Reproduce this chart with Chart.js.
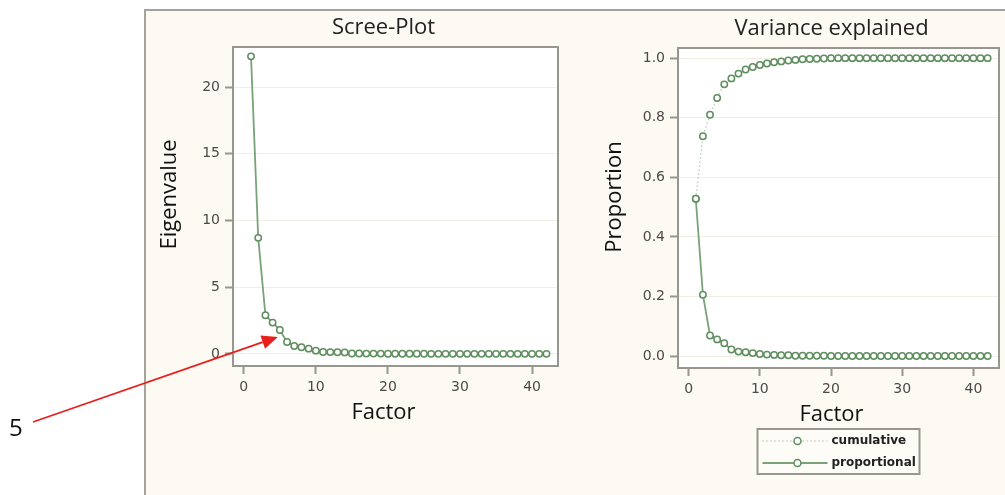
<html>
<head>
<script src="https://cdn.jsdelivr.net/npm/chart.js@4.4.1/dist/chart.umd.min.js"></script>
<style>
  body { margin: 0; width: 1005px; height: 495px; background: #ffffff; position: relative; overflow: hidden; }
  #panel {
    position: absolute; left: 144px; top: 9px; width: 900px; height: 520px;
    background: #fcfaf2; border-left: 2px solid #a4a49c; border-top: 2px solid #a4a49c;
  }
  #screeChart { position: absolute; left: 146px; top: 11px; }
  #varianceChart { position: absolute; left: 575px; top: 11px; }
  #arrowLayer { position: absolute; left: 0; top: 0; pointer-events: none; }
  #arrowLabel {
    position: absolute; left: 9px; top: 410px;
    font-family: "Open Sans"; font-size: 24px; color: #111;
  }
</style>
</head>
<body>
  <div id="panel"></div>
  <canvas id="screeChart" width="424" height="440"></canvas>
  <canvas id="varianceChart" width="430" height="484"></canvas>
  <canvas id="arrowLayer" width="1005" height="495"></canvas>
  <div id="arrowLabel">5</div>

<script>
  // factor numbers and what the factor analysis gave for them
  var factors = [1, 2, 3, 4, 5, 6, 7, 8, 9, 10, 11, 12, 13, 14, 15, 16, 17, 18, 19, 20, 21,
                 22, 23, 24, 25, 26, 27, 28, 29, 30, 31, 32, 33, 34, 35, 36, 37, 38, 39, 40, 41, 42];

  var eigenvalues = [22.3, 8.7, 2.9, 2.35, 1.8, 0.9, 0.6, 0.5, 0.4, 0.25, 0.15, 0.14, 0.13, 0.12,
                     0.04, 0.04, 0.03, 0.03, 0.03, 0.02, 0.02, 0.02, 0.02, 0.02, 0.02, 0.01, 0.01, 0.01,
                     0.01, 0.01, 0.01, 0.01, 0.01, 0.01, 0.01, 0.01, 0.01, 0.01, 0.01, 0.01, 0.01, 0.01];

  var proportional = [0.528, 0.206, 0.069, 0.056, 0.043, 0.022, 0.015, 0.013, 0.010, 0.007, 0.005, 0.004, 0.003, 0.003,
                      0.001, 0.001, 0.001, 0.001, 0.001, 0.0005, 0.0005, 0.0005, 0.0005, 0.0005, 0.0005, 0.0003, 0.0003, 0.0003,
                      0.0003, 0.0003, 0.0003, 0.0003, 0.0003, 0.0003, 0.0003, 0.0003, 0.0003, 0.0003, 0.0003, 0.0003, 0.0003, 0.0003];

  var cumulative = [0.528, 0.738, 0.81, 0.866, 0.912, 0.932, 0.948, 0.962, 0.970, 0.977, 0.982, 0.986, 0.989, 0.992,
                    0.994, 0.996, 0.997, 0.998, 0.999, 1.0, 1.0, 1.0, 1.0, 1.0, 1.0, 1.0, 1.0, 1.0,
                    1.0, 1.0, 1.0, 1.0, 1.0, 1.0, 1.0, 1.0, 1.0, 1.0, 1.0, 1.0, 1.0, 1.0];

  var factorTicks = [0, 10, 20, 30, 40];
  var eigenTicks = [0, 5, 10, 15, 20];
  var proportionTicks = [0.0, 0.2, 0.4, 0.6, 0.8, 1.0];

  var lineGreen = '#79a379';
  var markerGreen = '#5f8e5f';
  var frameGray = '#979790';
  var gridColor = '#efefe2';

  function toPoints(values) {
    return values.map(function (v, i) { return { x: factors[i], y: v }; });
  }

  // white plot area with a grey frame round it
  var plotFrame = {
    id: 'plotFrame',
    beforeDraw: function (chart) {
      var a = chart.chartArea, ctx = chart.ctx;
      ctx.save();
      ctx.fillStyle = '#ffffff';
      ctx.fillRect(a.left, a.top, a.right - a.left, a.bottom - a.top);
      ctx.restore();
    },
    afterDraw: function (chart) {
      var a = chart.chartArea, ctx = chart.ctx;
      ctx.save();
      ctx.strokeStyle = frameGray;
      ctx.lineWidth = 2;
      ctx.strokeRect(a.left, a.top, a.right - a.left, a.bottom - a.top);
      ctx.restore();
    }
  };

  // panel title, x title and rotated y title, all sharing one centre line
  var panelTitles = {
    id: 'panelTitles',
    afterDraw: function (chart, args, opts) {
      var a = chart.chartArea, ctx = chart.ctx;
      var cx = (a.left + a.right) / 2 + opts.shiftX;
      var cy = (a.top + a.bottom) / 2 + opts.shiftY;
      ctx.save();
      ctx.textAlign = 'center';
      ctx.textBaseline = 'middle';
      ctx.font = '22px "Open Sans"';
      ctx.fillStyle = '#222';
      ctx.fillText(opts.title, cx, a.top - 19);
      ctx.fillStyle = '#111';
      ctx.fillText(opts.xTitle, cx, a.bottom + 47);
      ctx.translate(opts.yTitleX, cy);
      ctx.rotate(-Math.PI / 2);
      ctx.fillText(opts.yTitle, 0, 0);
      ctx.restore();
    }
  };

  // legend with line + marker samples inside a framed box
  var boxLegend = {
    id: 'boxLegend',
    afterDraw: function (chart) {
      var ctx = chart.ctx, a = chart.chartArea;
      var w = 162, h = 45;
      var left = (a.left + a.right) / 2 - w / 2;
      var top = chart.scales.x.bottom + 1;
      ctx.save();
      ctx.fillStyle = '#fdfcf7';
      ctx.fillRect(left, top, w, h);
      ctx.strokeStyle = frameGray;
      ctx.lineWidth = 2;
      ctx.strokeRect(left, top, w, h);
      chart.data.datasets.forEach(function (ds, i) {
        var y = top + 12 + i * 22;
        ctx.beginPath();
        ctx.setLineDash(ds.borderDash || []);
        ctx.strokeStyle = ds.borderColor;
        ctx.lineWidth = ds.borderWidth;
        ctx.moveTo(left + 5, y);
        ctx.lineTo(left + 70, y);
        ctx.stroke();
        ctx.setLineDash([]);
        ctx.beginPath();
        ctx.arc(left + 40, y, 3.5, 0, Math.PI * 2);
        ctx.fillStyle = '#ffffff';
        ctx.fill();
        ctx.strokeStyle = ds.pointBorderColor;
        ctx.lineWidth = 1.5;
        ctx.stroke();
        ctx.fillStyle = '#222';
        ctx.font = 'bold 12px "DejaVu Sans"';
        ctx.textBaseline = 'middle';
        ctx.fillText(ds.label, left + 74, y);
      });
      ctx.restore();
    }
  };

  var tickFont = { family: 'DejaVu Sans', size: 14 };

  function xScale() {
    return {
      type: 'linear', min: -1.5, max: 43.6,
      afterBuildTicks: function (s) { s.ticks = factorTicks.map(function (v) { return { value: v }; }); },
      afterFit: function (s) { s.height = 60; },
      border: { display: false },
      grid: { drawOnChartArea: false, tickLength: 8, tickColor: frameGray, tickWidth: 2 },
      ticks: { padding: 5, color: '#4a4a4a', font: tickFont }
    };
  }

  function lineDataset(label, values, dash, color, width) {
    return {
      label: label,
      data: toPoints(values),
      borderColor: color,
      borderWidth: width,
      borderDash: dash,
      tension: 0,
      pointRadius: 3.2,
      pointBorderWidth: 1.5,
      pointBorderColor: markerGreen,
      pointBackgroundColor: '#ffffff'
    };
  }

  var screeChart = new Chart(document.getElementById('screeChart'), {
    type: 'line',
    data: { datasets: [lineDataset('eigenvalue', eigenvalues, [], lineGreen, 1.8)] },
    options: {
      responsive: false,
      animation: false,
      layout: { padding: { left: 0, right: 12, top: 36, bottom: 25 } },
      plugins: {
        legend: { display: false },
        tooltip: { enabled: false },
        panelTitles: { title: 'Scree-Plot', xTitle: 'Factor', yTitle: 'Eigenvalue', shiftX: -12, shiftY: -12, yTitleX: 24 }
      },
      scales: {
        x: xScale(),
        y: {
          min: -0.9, max: 23,
          afterBuildTicks: function (s) { s.ticks = eigenTicks.map(function (v) { return { value: v }; }); },
          afterFit: function (s) { s.width = 87; },
          border: { display: false },
          grid: { color: gridColor, tickLength: 8, tickColor: frameGray, tickWidth: 2 },
          ticks: { padding: 5, color: '#4a4a4a', font: tickFont }
        }
      }
    },
    plugins: [plotFrame, panelTitles]
  });

  var varianceChart = new Chart(document.getElementById('varianceChart'), {
    type: 'line',
    data: {
      datasets: [
        lineDataset('cumulative', cumulative, [1.5, 2.5], '#b3c6b3', 1.2),
        lineDataset('proportional', proportional, [], lineGreen, 1.8)
      ]
    },
    options: {
      responsive: false,
      animation: false,
      layout: { padding: { left: 0, right: 6, top: 37, bottom: 67 } },
      plugins: {
        legend: { display: false },
        tooltip: { enabled: false },
        panelTitles: { title: 'Variance explained', xTitle: 'Factor', yTitle: 'Proportion', shiftX: -7, shiftY: -11, yTitleX: 40 }
      },
      scales: {
        x: xScale(),
        y: {
          min: -0.04, max: 1.034,
          afterBuildTicks: function (s) { s.ticks = proportionTicks.map(function (v) { return { value: v }; }); },
          afterFit: function (s) { s.width = 103; },
          border: { display: false },
          grid: { color: gridColor, tickLength: 8, tickColor: frameGray, tickWidth: 2 },
          ticks: { padding: 5, color: '#4a4a4a', font: tickFont, callback: function (v) { return v.toFixed(1); } }
        }
      }
    },
    plugins: [plotFrame, panelTitles, boxLegend]
  });

  // red arrow pointing at the fifth eigenvalue
  var layer = document.getElementById('arrowLayer').getContext('2d');
  var screeCanvas = document.getElementById('screeChart');
  var tipX = screeCanvas.offsetLeft + screeChart.scales.x.getPixelForValue(factors[4]) - 2;
  var tipY = screeCanvas.offsetTop + screeChart.scales.y.getPixelForValue(eigenvalues[4]) + 7;
  var startX = 33, startY = 422;
  var ang = Math.atan2(tipY - startY, tipX - startX);
  var headLen = 16, headHalf = 7;
  var baseX = tipX - headLen * Math.cos(ang), baseY = tipY - headLen * Math.sin(ang);

  layer.strokeStyle = '#e8201c';
  layer.fillStyle = '#e8201c';
  layer.lineWidth = 1.8;
  layer.beginPath();
  layer.moveTo(startX, startY);
  layer.lineTo(baseX, baseY);
  layer.stroke();
  layer.beginPath();
  layer.moveTo(tipX, tipY);
  layer.lineTo(baseX + headHalf * Math.sin(ang), baseY - headHalf * Math.cos(ang));
  layer.lineTo(baseX - headHalf * Math.sin(ang), baseY + headHalf * Math.cos(ang));
  layer.closePath();
  layer.fill();
</script>
</body>
</html>
